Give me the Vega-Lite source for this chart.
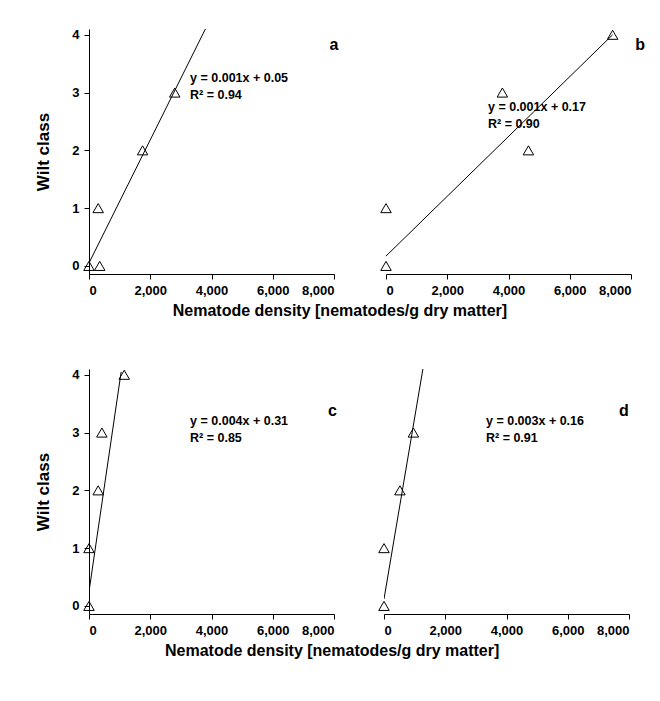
{
"$schema":"https://vega.github.io/schema/vega-lite/v6.json",
"background":"white",
"padding":{"left":34,"top":28,"right":10,"bottom":5},
"spacing":49,
"config":{"view":{"stroke":null},"font":"Liberation Sans",
"axis":{"labelFont":"Liberation Sans","labelFontWeight":"bold","labelFontSize":13,"labelPadding":5,"labelColor":"black","domainColor":"black","tickColor":"black","titleFont":"Liberation Sans","titleFontWeight":"bold","titleFontSize":17,"titleColor":"black","grid":false},
"title":{"font":"Liberation Sans","fontWeight":"bold","fontSize":16,"color":"black","offset":6}},
"datasets":{
"pts":[
{"panel":"a","x":0,"y":0},{"panel":"a","x":350,"y":0},{"panel":"a","x":300,"y":1},{"panel":"a","x":1750,"y":2},{"panel":"a","x":2800,"y":3},
{"panel":"b","x":0,"y":0},{"panel":"b","x":0,"y":1},{"panel":"b","x":3800,"y":3},{"panel":"b","x":4650,"y":2},{"panel":"b","x":7400,"y":4},
{"panel":"c","x":0,"y":0},{"panel":"c","x":0,"y":1},{"panel":"c","x":300,"y":2},{"panel":"c","x":420,"y":3},{"panel":"c","x":1150,"y":4},
{"panel":"d","x":0,"y":0},{"panel":"d","x":0,"y":1},{"panel":"d","x":520,"y":2},{"panel":"d","x":960,"y":3}],
"lns":[
{"panel":"a","x":0,"y":0.05},{"panel":"a","x":3800,"y":4.1},
{"panel":"b","x":0,"y":0.17},{"panel":"b","x":7400,"y":4},
{"panel":"c","x":0,"y":0.25},{"panel":"c","x":1050,"y":4.05},
{"panel":"d","x":0,"y":0.12},{"panel":"d","x":1270,"y":4.1}],
"txt":[
{"panel":"a","x":3300,"y":3.25,"t":"y = 0.001x + 0.05"},{"panel":"a","x":3300,"y":2.95,"t":"R² = 0.94"},
{"panel":"b","x":3330,"y":2.75,"t":"y = 0.001x + 0.17"},{"panel":"b","x":3330,"y":2.45,"t":"R² = 0.90"},
{"panel":"c","x":3300,"y":3.2,"t":"y = 0.004x + 0.31"},{"panel":"c","x":3300,"y":2.9,"t":"R² = 0.85"},
{"panel":"d","x":3330,"y":3.2,"t":"y = 0.003x + 0.16"},{"panel":"d","x":3330,"y":2.9,"t":"R² = 0.91"}],
"lab":[
{"panel":"a","x":8000,"y":3.83,"t":"a"},{"panel":"b","x":8300,"y":3.83,"t":"b"},
{"panel":"c","x":7950,"y":3.38,"t":"c"},{"panel":"d","x":7830,"y":3.38,"t":"d"}]
},
"vconcat":[
{"spacing":39,"hconcat":[
{"width":245,"height":245,
"encoding":{"x":{"field":"x","type":"quantitative","scale":{"domain":[0,8000]},"axis":{"values":[0,2000,4000,6000,8000],"labelExpr":"datum.value==0?'0':(datum.value/1000)+',000'","title":null}},"y":{"field":"y","type":"quantitative","scale":{"domain":[-0.14,4.1],"nice":false},"axis":{"values":[0,1,2,3,4],"labelExpr":"''+datum.value","title":"Wilt class","titlePadding":19}}},
"layer":[
{"data":{"name":"lns"},"transform":[{"filter":"datum.panel=='a'"}],"mark":{"type":"line","color":"black","strokeWidth":1,"clip":true}},
{"data":{"name":"pts"},"transform":[{"filter":"datum.panel=='a'"}],"mark":{"type":"point","shape":"triangle-up","filled":false,"color":"black","strokeWidth":1,"size":110,"opacity":1}},
{"data":{"name":"txt"},"transform":[{"filter":"datum.panel=='a'"}],"mark":{"type":"text","align":"left","fontWeight":"bold","fontSize":12.5,"color":"black"},"encoding":{"text":{"field":"t"}}},
{"data":{"name":"lab"},"transform":[{"filter":"datum.panel=='a'"}],"mark":{"type":"text","fontWeight":"bold","fontSize":16,"color":"black"},"encoding":{"text":{"field":"t"}}}
]},
{"width":245,"height":245,
"encoding":{"x":{"field":"x","type":"quantitative","scale":{"domain":[0,8000]},"axis":{"values":[0,2000,4000,6000,8000],"labelExpr":"datum.value==0?'0':(datum.value/1000)+',000'","title":null}},"y":{"field":"y","type":"quantitative","scale":{"domain":[-0.14,4.1],"nice":false},"axis":null}},
"layer":[
{"data":{"name":"lns"},"transform":[{"filter":"datum.panel=='b'"}],"mark":{"type":"line","color":"black","strokeWidth":1,"clip":true}},
{"data":{"name":"pts"},"transform":[{"filter":"datum.panel=='b'"}],"mark":{"type":"point","shape":"triangle-up","filled":false,"color":"black","strokeWidth":1,"size":110,"opacity":1}},
{"data":{"name":"txt"},"transform":[{"filter":"datum.panel=='b'"}],"mark":{"type":"text","align":"left","fontWeight":"bold","fontSize":12.5,"color":"black"},"encoding":{"text":{"field":"t"}}},
{"data":{"name":"lab"},"transform":[{"filter":"datum.panel=='b'"}],"mark":{"type":"text","fontWeight":"bold","fontSize":16,"color":"black"},"encoding":{"text":{"field":"t"}}}
]}
],"title":{"text":"Nematode density [nematodes/g dry matter]","orient":"bottom","anchor":"middle"}},
{"spacing":39,"hconcat":[
{"width":245,"height":245,
"encoding":{"x":{"field":"x","type":"quantitative","scale":{"domain":[0,8000]},"axis":{"values":[0,2000,4000,6000,8000],"labelExpr":"datum.value==0?'0':(datum.value/1000)+',000'","title":null}},"y":{"field":"y","type":"quantitative","scale":{"domain":[-0.14,4.1],"nice":false},"axis":{"values":[0,1,2,3,4],"labelExpr":"''+datum.value","title":"Wilt class","titlePadding":19}}},
"layer":[
{"data":{"name":"lns"},"transform":[{"filter":"datum.panel=='c'"}],"mark":{"type":"line","color":"black","strokeWidth":1,"clip":true}},
{"data":{"name":"pts"},"transform":[{"filter":"datum.panel=='c'"}],"mark":{"type":"point","shape":"triangle-up","filled":false,"color":"black","strokeWidth":1,"size":110,"opacity":1}},
{"data":{"name":"txt"},"transform":[{"filter":"datum.panel=='c'"}],"mark":{"type":"text","align":"left","fontWeight":"bold","fontSize":12.5,"color":"black"},"encoding":{"text":{"field":"t"}}},
{"data":{"name":"lab"},"transform":[{"filter":"datum.panel=='c'"}],"mark":{"type":"text","fontWeight":"bold","fontSize":16,"color":"black"},"encoding":{"text":{"field":"t"}}}
]},
{"width":245,"height":245,
"encoding":{"x":{"field":"x","type":"quantitative","scale":{"domain":[0,8000]},"axis":{"values":[0,2000,4000,6000,8000],"labelExpr":"datum.value==0?'0':(datum.value/1000)+',000'","title":null}},"y":{"field":"y","type":"quantitative","scale":{"domain":[-0.14,4.1],"nice":false},"axis":null}},
"layer":[
{"data":{"name":"lns"},"transform":[{"filter":"datum.panel=='d'"}],"mark":{"type":"line","color":"black","strokeWidth":1,"clip":true}},
{"data":{"name":"pts"},"transform":[{"filter":"datum.panel=='d'"}],"mark":{"type":"point","shape":"triangle-up","filled":false,"color":"black","strokeWidth":1,"size":110,"opacity":1}},
{"data":{"name":"txt"},"transform":[{"filter":"datum.panel=='d'"}],"mark":{"type":"text","align":"left","fontWeight":"bold","fontSize":12.5,"color":"black"},"encoding":{"text":{"field":"t"}}},
{"data":{"name":"lab"},"transform":[{"filter":"datum.panel=='d'"}],"mark":{"type":"text","fontWeight":"bold","fontSize":16,"color":"black"},"encoding":{"text":{"field":"t"}}}
]}
],"title":{"text":"Nematode density [nematodes/g dry matter]","orient":"bottom","anchor":"middle"}}
]
}
